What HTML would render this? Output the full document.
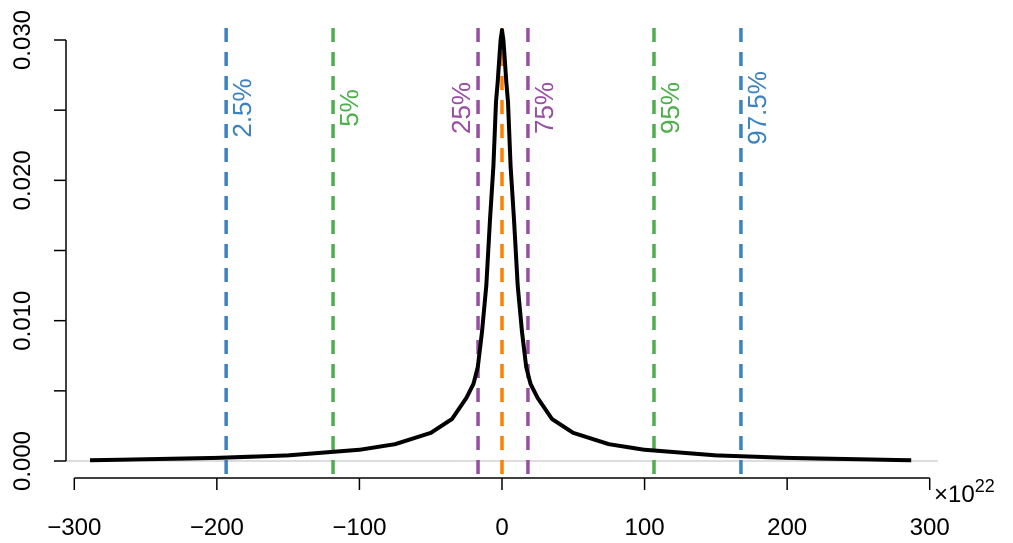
<!DOCTYPE html>
<html><head><meta charset="utf-8"><style>
html,body{margin:0;padding:0;background:#fff}
svg{display:block;font-family:"Liberation Sans",Arial,sans-serif}
</style></head><body>
<svg id="chart" width="1013" height="543" viewBox="0 0 1013 543" xmlns="http://www.w3.org/2000/svg"></svg>
<script>
const xs = [-289,-250,-200,-150,-100,-75,-50,-35,-25,-20,-17,-14,-11,-8.4,-6,-4.2,-3,-2,-1,0,1,2,3,4.2,6,8.4,11,14,17,20,25,35,50,75,100,150,200,250,287];
const dens = [0.00005,0.00012,0.00022,0.0004,0.0008,0.0012,0.002,0.003,0.0045,0.0055,0.0067,0.0092,0.0125,0.0172,0.021,0.0256,0.027,0.0285,0.0300,0.0307,0.0300,0.0285,0.027,0.0256,0.021,0.0172,0.0125,0.0092,0.0067,0.0055,0.0045,0.003,0.002,0.0012,0.0008,0.0004,0.00022,0.00012,0.00005];
const qLabels = ["2.5%","5%","25%","50%","75%","95%","97.5%"];
const qValues = [-193.5,-118.5,-16.8,0,18.2,106.6,167.6];
const qColors = ["#3b82c0","#4dae4a","#984ea3","#ff7f00","#984ea3","#4dae4a","#3b82c0"];
const xTicks = [-300,-200,-100,0,100,200,300];
const yTicks = [0,0.005,0.01,0.015,0.02,0.025,0.03];
const yTickLabels = ["0.000","","0.010","","0.020","","0.030"];

const X = v => 502 + v*1.4257;
const Y = v => 461 - v*14033;
const svg = document.getElementById('chart');
const NS = 'http://www.w3.org/2000/svg';
function mk(tag, attrs, parent){const e=document.createElementNS(NS,tag);for(const k in attrs)e.setAttribute(k,attrs[k]);(parent||svg).appendChild(e);return e;}

let g = mk('line',{x1:66,x2:938,y1:Y(0),y2:Y(0),stroke:'#bbb','stroke-width':1});



let ya = mk('g',{});


mk('line',{x1:66,x2:66,y1:Y(0),y2:Y(0.03),stroke:'#000','stroke-width':1.5},ya);
yTicks.forEach((t,i)=>{
  mk('line',{x1:54,x2:66,y1:Y(t),y2:Y(t),stroke:'#000','stroke-width':1.5},ya);
  if(yTickLabels[i]){
    const tx=mk('text',{x:0,y:0,'font-size':24,'text-anchor':'middle',transform:`translate(30,${Y(t)}) rotate(-90)`},ya);
    tx.textContent=yTickLabels[i];
    
    
  }
});
let xa = mk('g',{});


mk('line',{x1:X(-300),x2:X(300),y1:478,y2:478,stroke:'#000','stroke-width':1.5},xa);
xTicks.forEach(t=>{
  mk('line',{x1:X(t),x2:X(t),y1:478,y2:490,stroke:'#000','stroke-width':1.5},xa);
  const tx=mk('text',{x:X(t),y:535,'font-size':24,'text-anchor':'middle'},xa);
  tx.textContent=(t<0?'\u2212'+(-t):t);
  
  
});
const sc=mk('text',{x:934,y:502,'font-size':24},xa);
sc.innerHTML='×10<tspan dy="-10" font-size="18">22</tspan>';



qValues.forEach((q,i)=>{
  const l=mk('line',{x1:X(q),x2:X(q),y1:28,y2:480,stroke:qColors[i],'stroke-width':3.5,'stroke-dasharray':'14 10'});
  
  
  if(qLabels[i]!=="50%"){
    const off = (q<0 && q>-50)? -8 : 25;
    const t=mk('text',{x:0,y:0,'font-size':26,'text-anchor':'middle',fill:qColors[i],transform:`translate(${X(q)+off},108) rotate(-90)`});
    t.textContent=qLabels[i];
    
    
  }
});
const p=mk('path',{d:xs.map((v,i)=>(i?'L':'M')+X(v).toFixed(1)+','+Y(dens[i]).toFixed(1)).join(''),fill:'none',stroke:'#000','stroke-width':4,'stroke-linejoin':'round'});


</script>
</body></html>
